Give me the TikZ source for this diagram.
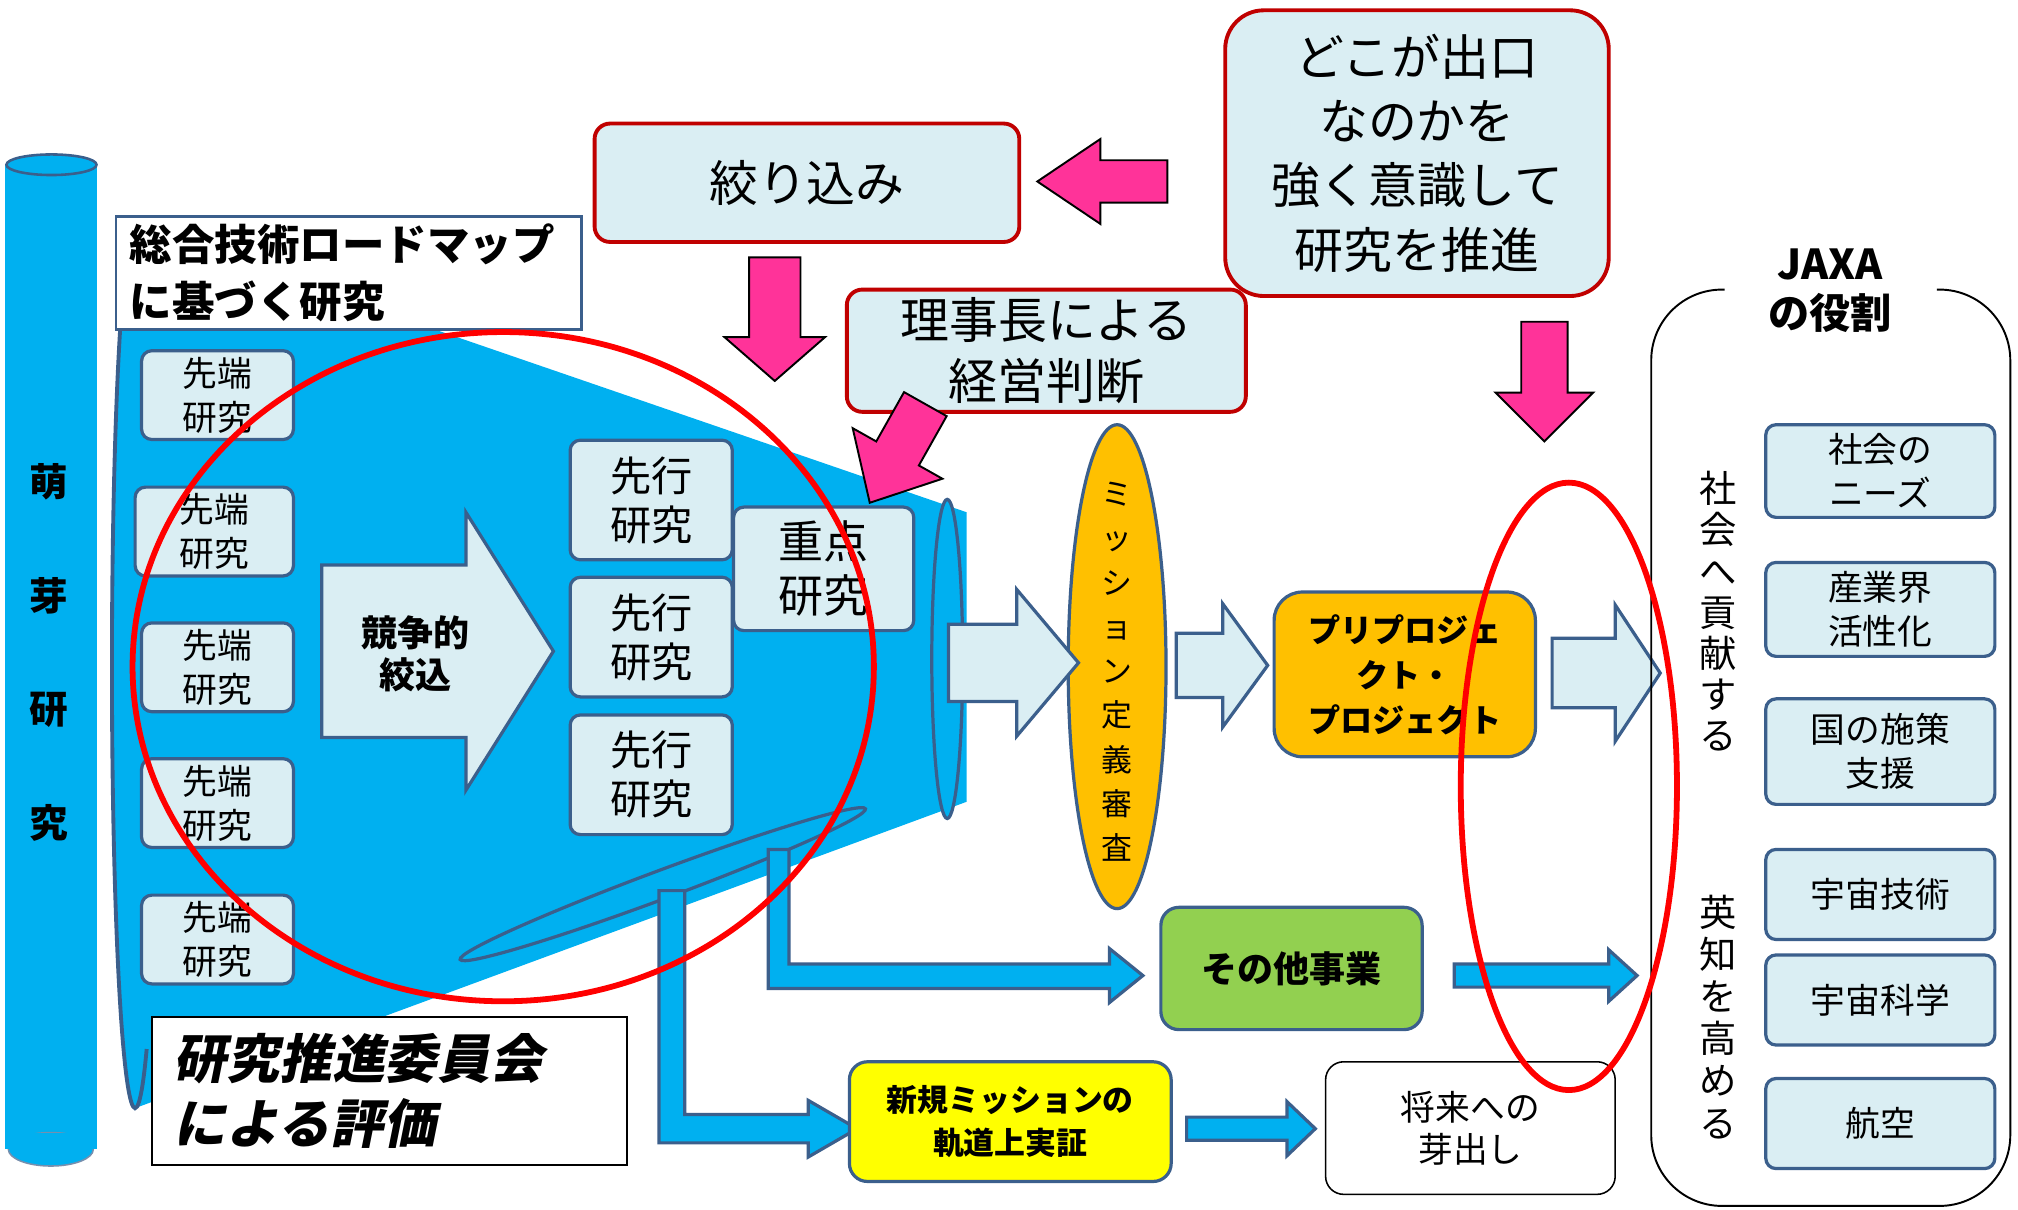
\documentclass[tikz,border=0pt]{standalone}
\usepackage{fontspec}
\setmainfont{Noto Sans CJK JP}
\newfontfamily\jpslant[FakeSlant=0.2]{Noto Sans CJK JP}
\usetikzlibrary{calc,shapes.geometric}
\definecolor{lblue}{HTML}{DAEEF3}
\definecolor{bdr}{HTML}{3B5F8C}
\definecolor{cyanb}{HTML}{00B0F0}
\definecolor{orng}{HTML}{FFC000}
\definecolor{grn}{HTML}{92D050}
\definecolor{pnk}{HTML}{FF3399}
\definecolor{dred}{HTML}{C00000}
\definecolor{rred}{HTML}{FF0000}
\definecolor{ylw}{HTML}{FFFF00}
\newcommand\fs[2]{\fontsize{#1}{#2}\selectfont}
% horizontal block arrow: x-start, head base x, tip x, y centre, half body, half head
\newcommand\harrow[6]{(#1,{#4-#5}) -- (#2,{#4-#5}) -- (#2,{#4-#6}) -- (#3,#4) -- (#2,{#4+#6}) -- (#2,{#4+#5}) -- (#1,{#4+#5}) -- cycle}
% vertical block arrow: x centre, y-start, head base y, tip y, half body, half head
\newcommand\varrow[6]{({#1-#5},#2) -- ({#1+#5},#2) -- ({#1+#5},#3) -- ({#1+#6},#3) -- (#1,#4) -- ({#1-#6},#3) -- ({#1-#5},#3) -- cycle}
\tikzset{
  lbbox/.style={draw=bdr, fill=lblue, line width=2.5pt, rounded corners=8pt, inner sep=0pt, align=center},
  redbox/.style={draw=dred, fill=lblue, line width=3pt, rounded corners=12pt, inner sep=0pt, align=center},
  lbarrow/.style={draw=bdr, fill=lblue, line width=2.5pt, line join=miter},
  cyarrow/.style={draw=bdr, fill=cyanb, line width=2.5pt},
  pkarrow/.style={draw=black, fill=pnk, line width=1.5pt},
  ring/.style={draw=rred, line width=4.5pt},
}
\begin{document}
\begin{tikzpicture}[x=1pt,y=-1pt]
\useasboundingbox (0,0) rectangle (1568,940);
\fill[white] (0,0) rectangle (1568,940);

% ---- cylinder ----
\fill[cyanb] (4,128) -- (4,893) -- (75,893) -- (75,128) -- cycle;
\draw[bdr!70, line width=1.2pt, fill=cyanb] (39.5,893) ellipse [x radius=33pt, y radius=13pt];
\fill[cyanb] (4,880) rectangle (75,893);
\draw[bdr, line width=2pt, fill=cyanb] (40,128) ellipse [x radius=35pt, y radius=8pt];
\node[font=\bfseries\fs{30}{88.3}, align=center] (mega) at (38,507) {萌\\芽\\研\\究};

% ---- funnel ----
\fill[cyanb] (105,176) -- (751,398) -- (751,623) -- (105,861) -- cycle;
\fill[cyanb] (105,518) ellipse [x radius=18pt, y radius=343pt];
\draw[bdr, line width=3pt] (93.4,255.3) arc[start angle=130, end angle=300, x radius=18pt, y radius=343pt];
\draw[bdr, line width=2.5pt, fill=cyanb] (736,512) ellipse [x radius=12pt, y radius=124pt];
\draw[bdr, line width=2.5pt, rotate around={20.4:(515,687)}] (515,687) ellipse [x radius=168pt, y radius=11pt];

% ---- sentan boxes ----
\foreach \n/\x/\y/\w in {1/169/307/118, 2/166.5/413/123, 3/169/518.5/118, 4/169/624/118, 5/169/730/118}{
  \node[lbbox, minimum width=\w pt, minimum height=69pt, font=\fs{27}{34}] (s\n) at (\x,\y) {先端\\研究};
}
% competitive narrowing arrow
\draw[lbarrow] \harrow{250}{362}{430}{506}{67}{108};
\node[font=\bfseries\fs{28}{33}, align=center] (kyoso) at (323,508) {競争的\\絞込};
% senko boxes
\foreach \n/\y in {1/388.5, 2/495, 3/602}{
  \node[lbbox, minimum width=126pt, minimum height=93pt, font=\fs{32}{38}] (k\n) at (506,\y) {先行\\研究};
}
\node[lbbox, minimum width=140pt, minimum height=96pt, font=\fs{35}{42}] (juten) at (640,442) {重点\\研究};

% ---- L-shaped blue arrows ----
\draw[cyarrow] (597,660) -- (613,660) -- (613,749) -- (862,749) -- (862,737) -- (888,758) -- (862,779) -- (862,768) -- (597,768) -- cycle;
\draw[cyarrow] (512,692) -- (532,692) -- (532,866) -- (628,866) -- (628,855) -- (666,877) -- (628,899) -- (628,888) -- (512,888) -- cycle;

% ---- label boxes ----
\node[draw=bdr, fill=white, line width=2pt, minimum width=362pt, minimum height=88pt, inner sep=0pt, text width=340pt, align=left, font=\bfseries\fs{33}{44}] (roadmap) at (271,212) {総合技術ロードマップ\\に基づく研究};
\node[draw=black, fill=white, line width=1.2pt, minimum width=369pt, minimum height=115pt, inner sep=0pt, text width=335pt, align=left, font=\jpslant\bfseries\fs{41}{50}] (hyoka) at (302.5,847.5) {研究推進委員会\\による評価};

% ---- red boxes ----
\node[redbox, minimum width=330pt, minimum height=92pt, font=\fs{38}{46}] (shibori) at (627,142) {絞り込み};
\node[redbox, minimum width=310pt, minimum height=95pt, font=\fs{38}{48}] (rijicho) at (813,272.5) {理事長による\\経営判断};
\node[redbox, rounded corners=30pt, minimum width=298pt, minimum height=222pt, font=\fs{38}{50}] (deguchi) at (1101,119) {どこが出口\\なのかを\\強く意識して\\研究を推進};

% ---- pink arrows ----
\draw[pkarrow] \harrow{907}{855}{806}{141}{16.5}{33};
\draw[pkarrow] \varrow{602}{200}{262}{296}{20}{39};
\draw[pkarrow] \varrow{1200}{250}{305}{343}{18}{38};
\draw[pkarrow, rotate around={-29.4:(719,314)}] \varrow{719}{314}{358}{402}{19}{40};

% ---- mission ellipse ----
\node[draw=bdr, fill=orng, line width=2.5pt, ellipse, inner sep=0pt, minimum width=76pt, minimum height=376pt] (mission) at (868,518) {};
\node[font=\fs{24}{34.4}, align=center] (missiontxt) at (868,522) {ミ\\ッ\\シ\\ョ\\ン\\定\\義\\審\\査};

% ---- light-blue arrows ----
\draw[lbarrow] \harrow{737}{790}{838}{515}{30}{57};
\draw[lbarrow] \harrow{914}{950}{985}{517}{25}{48};
\draw[lbarrow] \harrow{1206}{1255}{1290}{523}{27}{53};

% ---- project boxes ----
\node[draw=bdr, fill=orng, line width=2.5pt, rounded corners=22pt, minimum width=203pt, minimum height=128pt, inner sep=0pt, align=center, font=\bfseries\fs{25}{35}] (pp) at (1091.5,524) {プリプロジェ\\クト・\\プロジェクト};
\node[draw=bdr, fill=grn, line width=2.5pt, rounded corners=14pt, minimum width=203pt, minimum height=95pt, inner sep=0pt, font=\bfseries\fs{28}{34}] (sonota) at (1003.5,752.5) {その他事業};
\node[draw=bdr, fill=ylw, line width=2.5pt, rounded corners=14pt, minimum width=250pt, minimum height=93pt, inner sep=0pt, align=center, font=\bfseries\fs{24}{33}] (shinki) at (785,871.5) {新規ミッションの\\軌道上実証};
\node[draw=black, fill=white, line width=1.2pt, rounded corners=14pt, minimum width=225pt, minimum height=103pt, inner sep=0pt, align=center, font=\fs{27}{33}] (shorai) at (1142.5,876.5) {将来への\\芽出し};

% ---- blue arrows ----
\draw[cyarrow] \harrow{1130}{1250}{1272}{758}{9}{20};
\draw[cyarrow] \harrow{922}{1000}{1022}{877}{9}{21};

% ---- JAXA bracket ----
\draw[black, line width=1.5pt, rounded corners=55pt] (1340,225) -- (1283,225) -- (1283,937) -- (1562,937) -- (1562,225) -- (1505,225);
\node[font=\bfseries\fs{32}{38}, align=center] (jaxa) at (1422,226) {JAXA\\の役割};
\node[font=\fs{29}{32}, align=center] (kouken) at (1335,475) {社\\会\\へ\\貢\\献\\す\\る};
\node[font=\fs{29}{32.8}, align=center] (eichi) at (1335,790) {英\\知\\を\\高\\め\\る};
\node[lbbox, minimum width=178pt, minimum height=72pt, font=\fs{27}{34}] (r1) at (1461,366) {社会の\\ニーズ};
\node[lbbox, minimum width=178pt, minimum height=73pt, font=\fs{27}{34}] (r2) at (1461,473.5) {産業界\\活性化};
\node[lbbox, minimum width=178pt, minimum height=82pt, font=\fs{27}{34}] (r3) at (1461,584) {国の施策\\支援};
\node[lbbox, minimum width=178pt, minimum height=70pt, font=\fs{27}{34}] (r4) at (1461,695) {宇宙技術};
\node[lbbox, minimum width=178pt, minimum height=70pt, font=\fs{27}{34}] (r5) at (1461,777) {宇宙科学};
\node[lbbox, minimum width=178pt, minimum height=70pt, font=\fs{27}{34}] (r6) at (1461,873) {航空};

% ---- red rings ----
\draw[ring] (391,518) ellipse [x radius=288pt, y radius=260pt];
\draw[ring] (1219,611) ellipse [x radius=84pt, y radius=236pt];
\end{tikzpicture}
\end{document}
